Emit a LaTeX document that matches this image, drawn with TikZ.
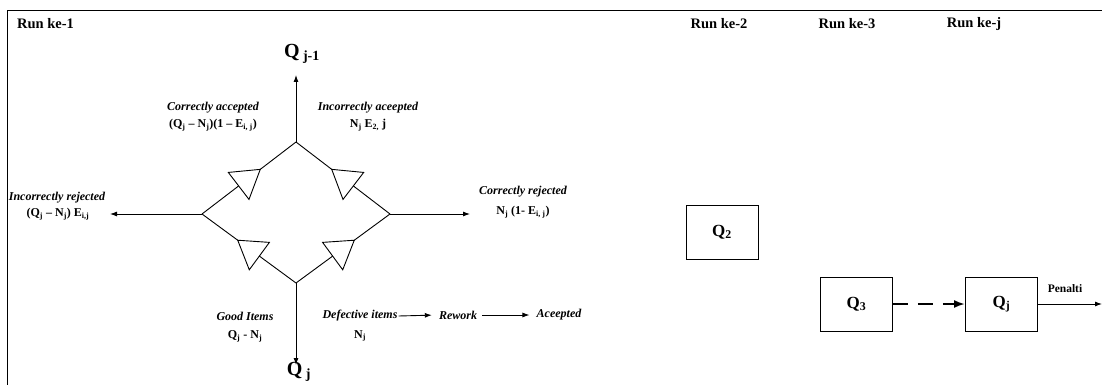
\documentclass[tikz,border=0pt]{standalone}
\usepackage{fontspec}
\setmainfont{Liberation Serif}
\usetikzlibrary{calc,arrows.meta}
\newcommand\flowtri[3]{%
  \coordinate (#3b) at ($(#1)!0.39!(#2)$);
  \coordinate (#3a) at ($(#1)!0.62!(#2)$);
  \draw[edge] (#1) -- (#2);
  \filldraw[tri] (#3a) -- ($(#3b)!17pt!90:(#3a)$) -- ($(#3b)!17pt!-90:(#3a)$) -- cycle;
}
\tikzset{
  edge/.style={line width=0.9pt},
  tri/.style={line width=0.9pt, fill=white, draw=black},
  arr/.style={line width=0.9pt, -{Latex[length=7pt,width=5pt]}},
  runlab/.style={inner sep=0pt, font=\fontsize{14.5}{16}\selectfont\bfseries},
  lab/.style={inner sep=1pt, font=\fontsize{12}{14}\selectfont\bfseries\itshape},
  frm/.style={inner sep=1pt, font=\fontsize{12}{14}\selectfont\bfseries},
  bigq/.style={inner sep=0pt, font=\fontsize{20}{22}\selectfont\bfseries},
  qbox/.style={draw, line width=0.9pt, minimum width=72pt, minimum height=54pt, inner sep=0pt, font=\fontsize{17}{19}\selectfont\bfseries},
}
\begin{document}
\begin{tikzpicture}[x=1pt,y=-1pt]
\useasboundingbox (0,0) rectangle (1102,385);
% frame
\coordinate (fl) at (7,385);
\coordinate (fc) at (7,10);
\coordinate (fr) at (1102,10);
\draw[line width=0.9pt] (fl) -- (fc) -- (fr);
% run labels
\node[runlab, anchor=west] (run1) at (17,24) {Run ke-1};
\node[runlab] (run2) at (719,24) {Run ke-2};
\node[runlab] (run3) at (847,24) {Run ke-3};
\node[runlab] (runj) at (974,24) {Run ke-j};
% diamond
\coordinate (top) at (296,142);
\coordinate (left) at (202,214);
\coordinate (right) at (390,214);
\coordinate (bot) at (296,283);
\flowtri{left}{top}{ul}
\flowtri{right}{top}{ur}
\flowtri{bot}{left}{ll}
\flowtri{bot}{right}{lr}
% arrow ends
\coordinate (tupend) at (296,75);
\coordinate (tdnend) at (296,365);
\coordinate (tlend) at (110,214);
\coordinate (trend) at (470,214);
\draw[arr] (top) -- (tupend);
\draw[arr] (bot) -- (tdnend);
\draw[arr] (left) -- (tlend);
\draw[arr] (right) -- (trend);
% Q labels
\node[bigq] (qjm1) at (302,54) {Q\,\textsubscript{j-1}};
\node[bigq] (qj) at (299,372) {Q\,\textsubscript{j}};
% labels
\node[lab] (ca1) at (213,108) {Correctly accepted};
\node[frm] (ca2) at (213,125) {(Q\textsubscript{j} – N\textsubscript{j})(1 – E\textsubscript{i, j})};
\node[lab] (ia1) at (368,108) {Incorrectly aceepted};
\node[frm] (ia2) at (368,125) {N\textsubscript{j} E\textsubscript{2,} j};
\node[lab] (ir1) at (57,198) {Incorrectly rejected};
\node[frm] (ir2) at (58,214) {(Q\textsubscript{j} – N\textsubscript{j}) E\textsubscript{i,j}};
\node[lab] (cr1) at (523,192) {Correctly rejected};
\node[frm] (cr2) at (523,212) {N\textsubscript{j} (1- E\textsubscript{i, j})};
\node[lab] (gi1) at (245,316) {Good Items};
\node[frm] (gi2) at (245,336) {Q\textsubscript{j} - N\textsubscript{j}};
\node[lab] (di1) at (360,316) {Defective items};
\node[frm] (di2) at (360,336) {N\textsubscript{j}};
\node[lab] (rw) at (458,315) {Rework};
\node[lab] (ac) at (559,315) {Aceepted};
\draw[arr, shorten >=6pt] (di1.east) -- (rw.west);
\draw[arr, shorten <=4pt, shorten >=6pt] (rw.east) -- (ac.west);
% boxes
\node[qbox] (q2) at (722,232) {Q\textsubscript{2}};
\node[qbox] (q3) at (856.5,304) {Q\textsubscript{3}};
\node[qbox] (qjb) at (1001.5,304) {Q\textsubscript{j}};
\draw[line width=2pt, dash pattern=on 15pt off 10pt, -{Latex[length=11pt,width=8pt]}] (q3.east) -- (qjb.west);
\coordinate (pend) at (1102,304);
\draw[arr] (qjb.east) -- (pend);
\node[frm, font=\fontsize{11.5}{13}\selectfont\bfseries] (pen) at (1065,289) {Penalti};
\end{tikzpicture}
\end{document}
